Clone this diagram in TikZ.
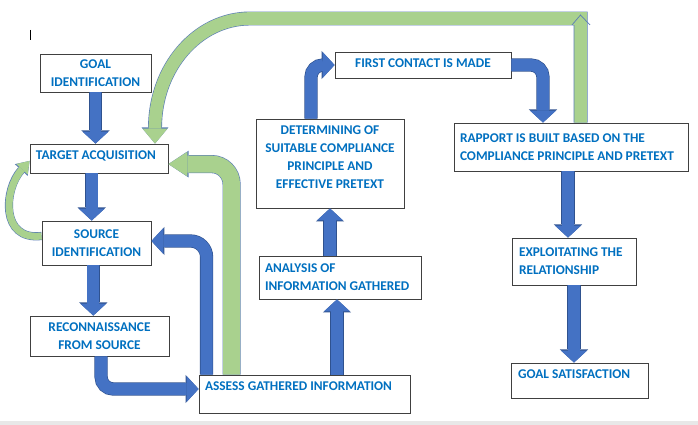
\documentclass[tikz,border=0pt]{standalone}
\usepackage{fontspec}
\setmainfont{Carlito}
\usepackage{tikz}
\usetikzlibrary{arrows.meta, positioning, calc}

\definecolor{txtblue}{HTML}{0070C0}
\definecolor{arrblue}{HTML}{4472C4}
\definecolor{arrline}{HTML}{2F528F}
\definecolor{arrgreen}{HTML}{A9D18E}
\definecolor{greenline}{HTML}{5B7DB5}
\definecolor{boxline}{HTML}{404040}

\begin{document}
\begin{tikzpicture}[
  box/.style={draw=boxline, line width=0.6pt, fill=white, inner sep=0pt, align=center, text=txtblue, font=\bfseries\fontsize{9.5}{12.8}\selectfont},
  lbox/.style={box, align=flush left, inner xsep=0.15cm},
  blockarr/.style={draw=arrblue, line width=8.5pt, -{Triangle[length=8.5pt, width=18.5pt, line width=0pt]},
    preaction={draw=arrline, line width=9.4pt, -{Triangle[length=9.3pt, width=20pt, line width=0pt]}}},
  greenarr/.style={draw=arrgreen, line width=12pt, -{Triangle[length=13.5pt, width=17.5pt, line width=0pt]},
    preaction={draw=greenline, line width=12.9pt, -{Triangle[length=14.3pt, width=19pt, line width=0pt]}}},
  greenarc/.style={draw=arrgreen, line width=9pt, -{Triangle[length=10.7pt, width=17.8pt, line width=0pt]},
    preaction={draw=greenline, line width=9.9pt, -{Triangle[length=11.5pt, width=19.2pt, line width=0pt]}}},
  greenloop/.style={draw=arrgreen, line width=5pt, -{Triangle[length=8pt, width=11pt, line width=0pt]},
    preaction={draw=greenline, line width=5.8pt, -{Triangle[length=8.8pt, width=12.4pt, line width=0pt]}}},
]
\useasboundingbox (0,0) rectangle (17.45,10.625);
\fill[gray!18] (0,0) rectangle (17.45,0.1);
\draw[line width=0.6pt] (0.75,9.875) -- (0.75,9.625);

% Left column
\node[box, minimum width=2.775cm, minimum height=0.95cm] (goal) at (2.3875,8.8) {GOAL\\IDENTIFICATION};
\node[lbox, text width=3.15cm, text height=0.3825cm, text depth=0.3425cm] (target) at (2.475,6.6625) {TARGET ACQUISITION};
\node[box, minimum width=2.725cm, minimum height=1.1cm] (source) at (2.4125,4.55) {SOURCE\\IDENTIFICATION};
\node[box, minimum width=3.475cm, minimum height=1cm] (recon) at (2.4875,2.225) {RECONNAISSANCE\\FROM SOURCE};

% Middle column
\node[lbox, text width=4.975cm, text height=0.4cm, text depth=0.55cm] (assess) at (7.6125,0.775) {ASSESS GATHERED INFORMATION};
\node[lbox, text width=3.75cm, minimum height=1.075cm] (analysis) at (8.5,3.6875) {ANALYSIS OF\\INFORMATION GATHERED};
\node[box, minimum width=3.7cm, minimum height=2.225cm, text depth=0.3cm] (determining) at (8.25,6.5375) {DETERMINING OF\\SUITABLE COMPLIANCE\\PRINCIPLE AND\\EFFECTIVE PRETEXT};
\node[box, minimum width=4.4cm, text height=0.4cm, text depth=0.25cm] (contact) at (10.575,9) {FIRST CONTACT IS MADE};

% Right column
\node[lbox, text width=5.55cm, minimum height=1.2cm] (rapport) at (14.275,6.95) {RAPPORT IS BUILT BASED ON THE\\COMPLIANCE PRINCIPLE AND PRETEXT};
\node[lbox, inner xsep=0.175cm, text width=2.75cm, minimum height=1.175cm] (exploit) at (14.35,4.0875) {EXPLOITATING THE\\RELATIONSHIP};
\node[lbox, inner xsep=0.175cm, text width=3.075cm, text height=0.4cm, text depth=0.475cm] (goalsat) at (14.4875,1.1125) {GOAL SATISFACTION};

% Blue arrows
\draw[blockarr] (goal.south) -- (goal.south |- target.north);
\draw[blockarr] ([xshift=-0.12cm]source.north |- target.south) -- ([xshift=-0.12cm]source.north);
\draw[blockarr] ([xshift=-0.08cm]source.south) -- ([xshift=-0.08cm]source.south |- recon.north);
\draw[blockarr, rounded corners=0.3cm] ([xshift=0.04cm]recon.south) |- ([yshift=0.125cm]assess.west);
\draw[blockarr, rounded corners=0.4cm] ([xshift=0.2cm]assess.north west) |- ([yshift=0.05cm]source.east);
\draw[blockarr] ([xshift=-0.075cm]analysis.south |- assess.north) -- ([xshift=-0.075cm]analysis.south);
\draw[blockarr] (determining.south |- analysis.north) -- (determining.south);
\draw[blockarr, rounded corners=0.3cm] ([xshift=-0.475cm]determining.north) |- (contact.west);
\draw[blockarr, rounded corners=0.3cm] (contact.east) -| ([xshift=-0.7cm]rapport.north);
\draw[blockarr] ([xshift=-0.15cm]exploit.north |- rapport.south) -- ([xshift=-0.15cm]exploit.north);
\draw[blockarr] (exploit.south) -- (exploit.south |- goalsat.north);

% Green arrows
\draw[greenarr, rounded corners=0.5cm] ([xshift=0.825cm]assess.north west) |- ([yshift=-0.14cm]target.east);
\coordinate (arctop) at (6.25,10.1625);
\draw[greenarc] ([xshift=0.24cm]rapport.north) |- (arctop)
  arc[start angle=90, end angle=180, x radius=2.375cm, y radius=2.7375cm] -- ([xshift=1.4cm]target.north);
\draw[greenline, line width=0.5pt] (14.3,10.0) -- (14.5125,10.25) -- (14.75,10.0);
\draw[greenloop] ([yshift=0.175cm]source.west) .. controls (0,4.6) and (0.1,5.9) .. ([yshift=-0.06cm]target.west);
\end{tikzpicture}
\end{document}
